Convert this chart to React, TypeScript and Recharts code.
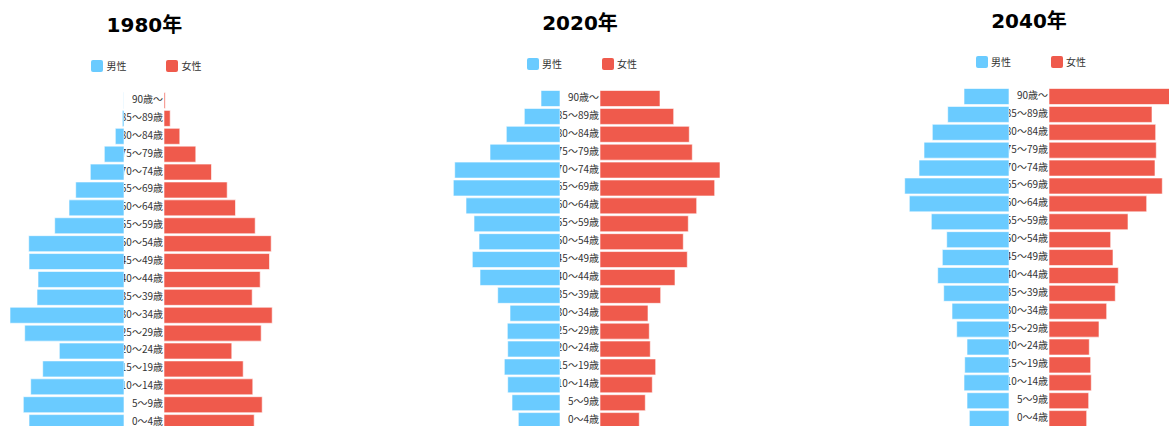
import React from 'react';
import { BarChart, Bar, XAxis, YAxis } from 'recharts';

const ageGroups = [
  '90歳～', '85～89歳', '80～84歳', '75～79歳', '70～74歳', '65～69歳', '60～64歳',
  '55～59歳', '50～54歳', '45～49歳', '40～44歳', '35～39歳', '30～34歳', '25～29歳',
  '20～24歳', '15～19歳', '10～14歳', '5～9歳', '0～4歳',
];

const male1980 = [0.3, 1.7, 8.7, 19.7, 33.7, 48.3, 55, 69.3, 95.3, 95, 86, 87, 114, 99.3, 64.7, 81.3, 93.3, 100.7, 95];
const female1980 = [1.2, 6.2, 15.8, 31.8, 47.5, 63.2, 71.5, 91.2, 107.2, 105.5, 96.2, 88.2, 108.2, 97.2, 67.8, 79.2, 88.8, 98.2, 90.2];
const male2020 = [19, 35.7, 53.7, 70, 105.3, 106.7, 94, 86, 81, 87.7, 80, 62.3, 50, 52.7, 52.3, 55.7, 52.3, 48, 41.7];
const female2020 = [60, 73.7, 89.3, 92.3, 120, 114.7, 96.7, 88.3, 83.3, 87.3, 75, 60.7, 48, 49.3, 50.3, 55.7, 52.3, 45.3, 39.3];
const male2040 = [45, 61.3, 76.7, 85, 90, 104.3, 99.7, 77.7, 62.3, 66.7, 71.3, 65.3, 57, 52.3, 42, 44.3, 45, 42, 39.7];
const female2040 = [130, 103, 106.7, 107.3, 106, 113.3, 97.7, 79, 61.7, 64, 69.3, 66.3, 57.7, 50, 40.3, 41.7, 42.3, 39.7, 37.7];

const titles = ['1980年', '2020年', '2040年'];
const seriesNames = ['男性', '女性'];

const MALE_COLOR = '#6ACBFF';
const FEMALE_COLOR = '#EF5A4C';
const BAR_STROKE = 'rgba(255,255,255,0.6)';

const SIDE = 180;
const LABEL_W = 40;
const PLOT_H = 340;

type Row = { age: string; male: number; female: number };

function build(male: number[], female: number[]): Row[] {
  return ageGroups.map((age, i) => ({ age, male: male[i], female: female[i] }));
}

const panels = [
  { title: titles[0], data: build(male1980, female1980), cx: 144.4, dy: 0 },
  { title: titles[1], data: build(male2020, female2020), cx: 580, dy: -2 },
  { title: titles[2], data: build(male2040, female2040), cx: 1029, dy: -4 },
];

const AgeTick = (props: any) => {
  const { x, y, payload } = props;
  return (
    <text
      x={x}
      y={y}
      dy={-2}
      textAnchor="end"
      dominantBaseline="central"
      fontSize={10}
      fill="#333"
      fontFamily="'Noto Sans CJK JP', sans-serif"
    >
      {payload.value}
    </text>
  );
};

function LegendItem({ left, top, color, label }: { left: number; top: number; color: string; label: string }) {
  return (
    <>
      <div
        style={{
          position: 'absolute',
          left,
          top,
          width: 12,
          height: 12,
          background: color,
          borderRadius: 2,
        }}
      />
      <div
        style={{
          position: 'absolute',
          left: left + 15,
          top: top - 2,
          height: 16,
          lineHeight: '16px',
          fontSize: 10,
          color: '#333',
          fontFamily: "'Noto Sans CJK JP', sans-serif",
          whiteSpace: 'nowrap',
        }}
      >
        {label}
      </div>
    </>
  );
}

function Panel({ p }: { p: (typeof panels)[number] }) {
  const top = 91.5 + p.dy;
  const h = top + PLOT_H;
  return (
    <>
      <div
        style={{
          position: 'absolute',
          left: p.cx - 100,
          width: 200,
          top: 25 + p.dy - 14,
          height: 28,
          lineHeight: '28px',
          textAlign: 'center',
          fontSize: 20,
          fontWeight: 'bold',
          color: '#000',
          fontFamily: "'DejaVu Sans', 'Noto Sans CJK JP', sans-serif",
        }}
      >
        {p.title}
      </div>
      <LegendItem left={p.cx - 53} top={60 + p.dy} color={MALE_COLOR} label={seriesNames[0]} />
      <LegendItem left={p.cx + 22} top={60 + p.dy} color={FEMALE_COLOR} label={seriesNames[1]} />
      <div style={{ position: 'absolute', left: p.cx - 20 - SIDE, top: 0 }}>
        <BarChart
          layout="vertical"
          width={SIDE}
          height={h}
          data={p.data}
          margin={{ top, right: 0, bottom: 0, left: 0 }}
          barSize={16}
        >
          <XAxis type="number" domain={[0, SIDE]} reversed hide />
          <YAxis type="category" dataKey="age" hide />
          <Bar dataKey="male" fill={MALE_COLOR} stroke={BAR_STROKE} strokeWidth={1} isAnimationActive={false} />
        </BarChart>
      </div>
      <div style={{ position: 'absolute', left: p.cx - 20, top: 0, overflow: 'hidden' }}>
        <BarChart
          layout="vertical"
          width={LABEL_W + SIDE}
          height={h}
          data={p.data}
          margin={{ top, right: 0, bottom: 0, left: 0 }}
          barSize={16}
        >
          <XAxis type="number" domain={[0, SIDE]} hide />
          <YAxis
            type="category"
            dataKey="age"
            width={LABEL_W}
            tickLine={false}
            axisLine={false}
            tickSize={0}
            tickMargin={1}
            interval={0}
            tick={<AgeTick />}
          />
          <Bar dataKey="female" fill={FEMALE_COLOR} stroke={BAR_STROKE} strokeWidth={1} isAnimationActive={false} />
        </BarChart>
      </div>
    </>
  );
}

export default function App() {
  return (
    <div
      style={{
        position: 'absolute',
        left: 0,
        top: 0,
        width: 1169,
        height: 426,
        overflow: 'hidden',
        background: '#fff',
      }}
    >
      {panels.map((p) => (
        <Panel key={p.title} p={p} />
      ))}
    </div>
  );
}
